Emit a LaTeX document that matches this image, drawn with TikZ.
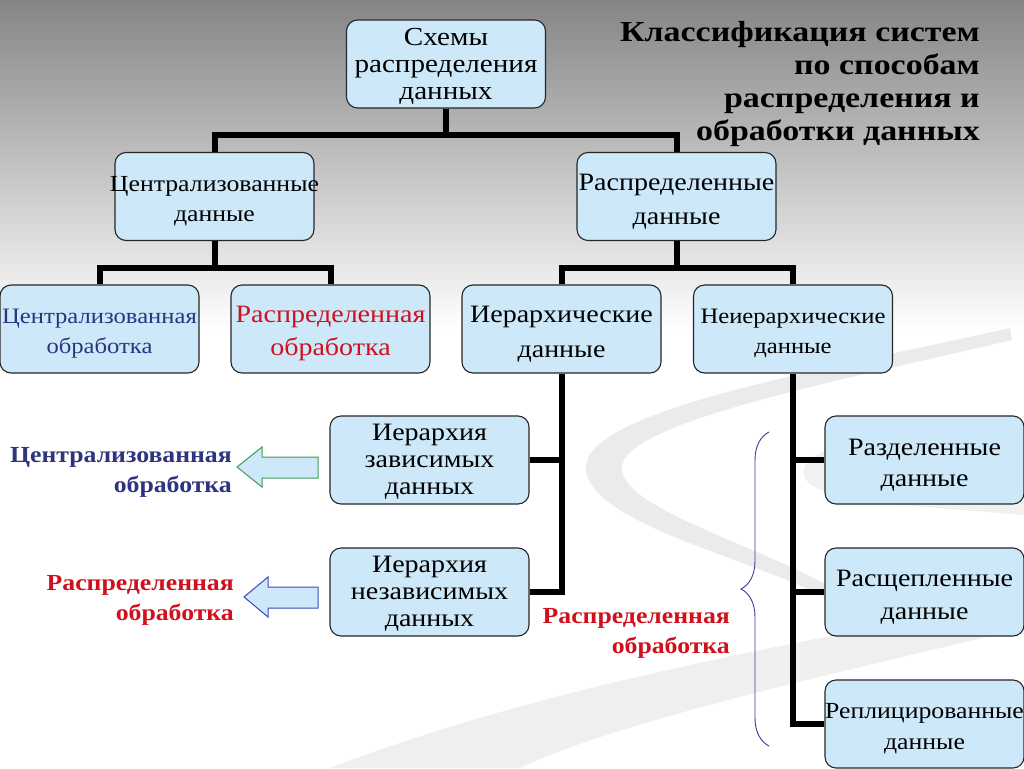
\documentclass[tikz,border=0pt]{standalone}
\usepackage{fontspec}
\setmainfont{Liberation Serif}[FakeStretch=1.12]
\newfontfamily\titlefont{Liberation Serif}[FakeStretch=1.17]
\usetikzlibrary{decorations.pathreplacing}

\definecolor{boxfill}{HTML}{CDE8F8}
\definecolor{darkblue}{HTML}{2E3480}
\definecolor{myred}{HTML}{D0101C}
\definecolor{bracecol}{HTML}{3A3A9A}
\definecolor{arrgreen}{HTML}{3F9A5A}
\definecolor{arrblue}{HTML}{3A4AB8}
\definecolor{bgtop}{HTML}{858585}
\definecolor{bgmid}{HTML}{C4C4C4}
\definecolor{swoosh}{HTML}{DCDCDC}

\newcommand{\fsz}[2]{\fontsize{#1}{#2}\selectfont}
\newcommand{\tl}[1][1.05em]{\rule{0pt}{#1}}
\newcommand{\wide}[1]{\makebox[190pt]{#1}}

\begin{document}
\begin{tikzpicture}[x=1pt,y=-1pt,
  box/.style={draw=black!85, line width=1.1pt, fill=boxfill, rounded corners=11pt,
              minimum width=199pt, minimum height=88pt, align=center, inner sep=0pt},
  conn/.style={line width=6pt, black},
  lbl/.style={font=\bfseries\fsz{23}{30}, align=right, inner sep=0pt, anchor=east},
  blockarrow/.style={line width=1pt, fill=boxfill},
]
\useasboundingbox (0,0) rectangle (1024,768);
% background
\fill[white] (0,0) rectangle (1024,768);
\shade[top color=bgtop, middle color=bgmid, bottom color=white] (0,0) rectangle (1024,330);
% swooshes
\fill[swoosh, opacity=0.55] (1010,328) .. controls (800,375) and (560,415) .. (588,478)
   .. controls (610,530) and (760,560) .. (840,605)
   -- (845,595) .. controls (760,545) and (632,512) .. (622,472)
   .. controls (612,425) and (820,385) .. (1012,340) -- cycle;
\fill[swoosh, opacity=0.45] (330,768) .. controls (560,680) and (820,640) .. (1024,598)
   -- (1024,628) .. controls (850,670) and (620,720) .. (520,768) -- cycle;
\fill[swoosh, opacity=0.4] (1024,420) .. controls (900,425) and (790,445) .. (805,478)
   .. controls (815,500) and (900,505) .. (1024,515)
   -- (1024,500) .. controls (900,490) and (830,485) .. (828,470)
   .. controls (826,450) and (900,440) .. (1024,438) -- cycle;

% title
\node[font=\titlefont\bfseries\fsz{29}{33}, align=right, inner sep=0pt, anchor=north east] (title) at (980,21.5)
  {Классификация систем\\по способам\\распределения и\\обработки данных};

% boxes
\node[box, font=\fsz{26}{27}] (top) at (446,64) {\tl[0.85em]Схемы\\распределения\\данных};
\node[box, font=\fsz{23}{30}] (cd) at (214.5,196.5) {\tl\wide{Централизованные}\\данные};
\node[box, font=\fsz{25}{34}] (rd) at (676.5,196.5) {\tl\wide{Распределенные}\\данные};
\node[box, font=\fsz{22}{30}, text=darkblue] (co) at (99.5,329) {\tl\wide{Централизованная}\\обработка};
\node[box, font=\fsz{25}{33}, text=myred] (ro) at (330.5,329) {\tl\wide{Распределенная}\\обработка};
\node[box, font=\fsz{25}{35}] (ih) at (561.5,329) {\tl\wide{Иерархические}\\данные};
\node[box, font=\fsz{22}{30}] (nh) at (793,329) {\tl\wide{Неиерархические}\\данные};
\node[box, font=\fsz{25}{27}] (iz) at (429.5,460) {\tl[0.8em]Иерархия\\зависимых\\данных};
\node[box, font=\fsz{25}{27}] (in) at (429.5,592) {\tl[0.8em]Иерархия\\независимых\\данных};
\node[box, font=\fsz{25}{31}] (raz) at (924.5,460) {\tl Разделенные\\данные};
\node[box, font=\fsz{25}{33}] (ras) at (924.5,592) {\tl\wide{Расщепленные}\\данные};
\node[box, font=\fsz{23}{31}] (rep) at (924.5,724) {\tl\wide{Реплицированные}\\данные};

% connectors
\draw[conn] (top.south) -- (top.south |- 0,135) -| (cd.north);
\draw[conn] (top.south |- 0,135) -| (rd.north);
\draw[conn] (cd.south) -- (cd.south |- 0,268) -| (co.north);
\draw[conn] (cd.south |- 0,268) -| (ro.north);
\draw[conn] (rd.south) -- (rd.south |- 0,268) -| (ih.north);
\draw[conn] (rd.south |- 0,268) -| (nh.north);
\draw[conn] (ih.south) |- (in.east);
\draw[conn] (ih.south |- iz.east) -- (iz.east);
\draw[conn] (nh.south) |- (rep.west);
\draw[conn] (nh.south |- raz.west) -- (raz.west);
\draw[conn] (nh.south |- ras.west) -- (ras.west);

% side labels
\node[lbl, text=darkblue] (lc) at (232,472) {Централизованная\\обработка};
\node[lbl, text=myred] (lr) at (234,600) {Распределенная\\обработка};
\node[lbl, text=myred] (mr) at (730,633) {Распределенная\\обработка};

% block arrows
\coordinate (a1) at (237,467);
\coordinate (a2) at (244,597);
\draw[blockarrow, draw=arrgreen] (a1) -- ++(25,-20) -- ++(0,10) -- ++(56,0) -- ++(0,21)
   -- ++(-56,0) -- ++(0,9) -- cycle;
\draw[blockarrow, draw=arrblue] (a2) -- ++(24,-20) -- ++(0,10) -- ++(50,0) -- ++(0,21)
   -- ++(-50,0) -- ++(0,9) -- cycle;

% brace
\coordinate (b1) at (769,746);
\coordinate (b2) at (769,432);
\draw[bracecol, line width=0.9pt, decorate, decoration={brace, amplitude=28pt}] (b1) -- (b2);
\end{tikzpicture}
\end{document}
